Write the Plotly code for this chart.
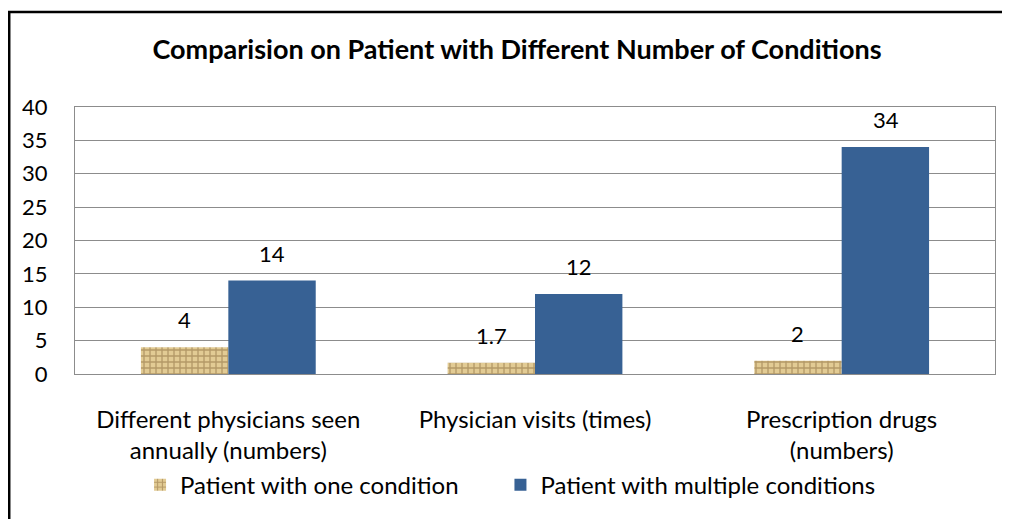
import plotly.graph_objects as go

categories = ['Different physicians seen<br>annually (numbers)',
              'Physician visits (times)',
              'Prescription drugs<br>(numbers)']
one_condition = [4, 1.7, 2]
multiple_conditions = [14, 12, 34]
one_labels = ['4', '1.7', '2']
multi_labels = ['14', '12', '34']

font = 'Lato, Open Sans, sans-serif'

fig = go.Figure()
fig.add_trace(go.Bar(
    x=categories, y=one_condition,
    name='Patient with one condition' + '&nbsp;' * 6,
    marker=dict(
        color='#d8bf86',
        line=dict(width=0),
        pattern=dict(shape='+', fgcolor='#87673a', bgcolor='#e2cb94', size=6, solidity=0.4)
    )
))
fig.add_trace(go.Bar(
    x=categories, y=multiple_conditions,
    name='Patient with multiple conditions',
    marker=dict(color='#376194', line=dict(width=0))
))

# value labels above bars
for i, cat in enumerate(categories):
    fig.add_annotation(x=cat, y=one_condition[i], text=one_labels[i], xshift=-44,
                       yanchor='bottom', yshift=12, showarrow=False,
                       font=dict(size=22, color='black', family=font))
    fig.add_annotation(x=cat, y=multiple_conditions[i], text=multi_labels[i], xshift=44,
                       yanchor='bottom', yshift=12, showarrow=False,
                       font=dict(size=22, color='black', family=font))

# outer chart border
fig.add_shape(type='rect', xref='paper', yref='paper',
              x0=-0.0715, x1=1.3, y0=-1.0, y1=1.356,
              line=dict(color='black', width=2.5))

fig.update_layout(
    width=1002, height=511,
    margin=dict(l=67, r=15, t=99, b=141),
    paper_bgcolor='white', plot_bgcolor='white',
    font=dict(family=font, size=24, color='black'),
    title=dict(text='<b>Comparision on Patient with Different Number of Conditions</b>',
               x=0.508, xanchor='center', y=0.918, yanchor='middle',
               font=dict(size=27, family=font, color='black')),
    barmode='group',
    bargap=0.43,
    bargroupgap=0,
    showlegend=True,
    legend=dict(orientation='h', x=0.0707, xanchor='left', y=-0.416, yanchor='middle',
                font=dict(size=24, family=font), itemwidth=30,
                bgcolor='rgba(0,0,0,0)'),
    yaxis=dict(range=[0, 40], dtick=5, showgrid=True, gridcolor='#8c8c8c', gridwidth=1,
               showline=True, linecolor='#8c8c8c', mirror=True, zeroline=False,
               ticks='', ticklabelstandoff=22, tickfont=dict(size=22)),
    xaxis=dict(showline=True, linecolor='#8c8c8c', mirror=True, ticks='',
               tickfont=dict(size=24), ticklabelstandoff=24),
)

fig.write_html('out.html')
